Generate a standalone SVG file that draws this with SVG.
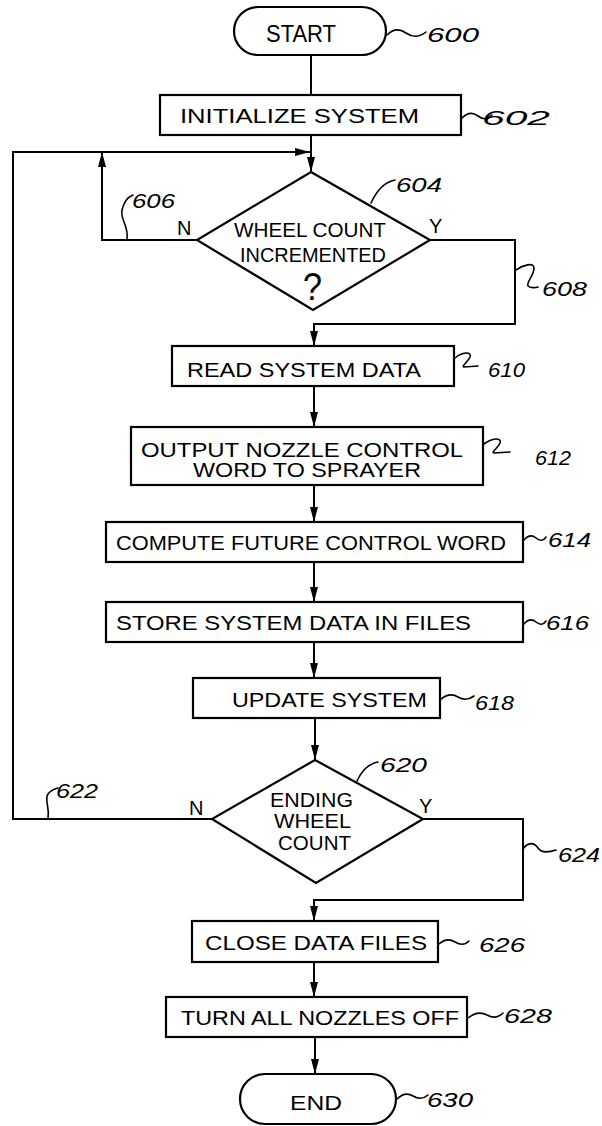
<svg xmlns="http://www.w3.org/2000/svg" width="602" height="1126" viewBox="0 0 602 1126">
<style>
.box{fill:#fff;stroke:#000;stroke-width:2.2}
.ln{fill:none;stroke:#000;stroke-width:2}
.ld{fill:none;stroke:#000;stroke-width:1.6;stroke-linecap:round}
.t{font-family:"Liberation Sans",Arial,sans-serif;font-size:20px;fill:#000}
.n{font-family:"Liberation Sans",Arial,sans-serif;font-size:20px;font-style:italic;fill:#000}
</style>
<defs>
<marker id="ah" markerUnits="userSpaceOnUse" markerWidth="15" markerHeight="8" refX="15" refY="4" orient="auto">
<path d="M0,0 L15,4 L0,8 z" fill="#000"/>
</marker>
</defs>
<rect width="602" height="1126" fill="#fff"/>

<g id="connectors">
<line class="ln" x1="311" y1="55" x2="311" y2="95"/>
<line class="ln" x1="311" y1="135" x2="311" y2="172" marker-end="url(#ah)"/>
<polyline class="ln" points="212,819 13,819 13,152 310,152" marker-end="url(#ah)"/>
<polyline class="ln" points="197,240 102,240 102,152" marker-end="url(#ah)"/>
<polyline class="ln" points="430,240 515,240 515,324 314,324 314,346" marker-end="url(#ah)"/>
<line class="ln" x1="314" y1="386" x2="314" y2="427" marker-end="url(#ah)"/>
<line class="ln" x1="314" y1="485" x2="314" y2="522" marker-end="url(#ah)"/>
<line class="ln" x1="314" y1="562" x2="314" y2="602" marker-end="url(#ah)"/>
<line class="ln" x1="314" y1="642" x2="314" y2="678" marker-end="url(#ah)"/>
<line class="ln" x1="315" y1="718" x2="315" y2="760" marker-end="url(#ah)"/>
<polyline class="ln" points="423,819 523,819 523,900 314,900 314,921" marker-end="url(#ah)"/>
<line class="ln" x1="314" y1="962" x2="314" y2="997" marker-end="url(#ah)"/>
<line class="ln" x1="315" y1="1037" x2="315" y2="1074" marker-end="url(#ah)"/>
</g>

<g id="n600">
<rect class="box" x="234" y="7" width="152" height="48" rx="24"/>
<text class="t" x="266" y="42" style="font-size:23px" textLength="70" lengthAdjust="spacingAndGlyphs">START</text>
<path class="ld" d="M387,35 q9,-9 19,-2 t20,-1"/>
<text class="n" x="427" y="42" textLength="52" lengthAdjust="spacingAndGlyphs">600</text>
</g>

<g id="n602">
<rect class="box" x="160" y="95" width="301" height="40"/>
<text class="t" x="180" y="123" textLength="239" lengthAdjust="spacingAndGlyphs">INITIALIZE SYSTEM</text>
<path class="ld" d="M462,118 q8,-8 16,-2 t14,-1"/>
<text class="n" x="482" y="125" textLength="68" lengthAdjust="spacingAndGlyphs">602</text>
</g>

<g id="n604">
<polygon class="box" points="311,172 430,240 313,310 197,240"/>
<text class="t" x="234" y="237" textLength="152" lengthAdjust="spacingAndGlyphs">WHEEL COUNT</text>
<text class="t" x="240" y="262" textLength="146" lengthAdjust="spacingAndGlyphs">INCREMENTED</text>
<text class="t" x="303" y="300" style="font-size:38px" textLength="19" lengthAdjust="spacingAndGlyphs">?</text>
<text class="t" x="177" y="235">N</text>
<text class="t" x="429" y="233">Y</text>
<path class="ld" d="M371,203 C377,190 384,182 395,180"/>
<text class="n" x="396" y="192" textLength="46" lengthAdjust="spacingAndGlyphs">604</text>
</g>

<g id="n606">
<path class="ld" d="M127,239 C129,226 120,220 122,210 C124,201 128,197 133,195"/>
<text class="n" x="132" y="208" textLength="43" lengthAdjust="spacingAndGlyphs">606</text>
</g>

<g id="n608">
<path class="ld" d="M516,270 C523,265 534,262 534,268 C534,276 526,282 528,286 C530,288 535,288 538,287"/>
<text class="n" x="542" y="296" textLength="45" lengthAdjust="spacingAndGlyphs">608</text>
</g>

<g id="n610">
<rect class="box" x="172" y="346" width="282" height="40"/>
<text class="t" x="187" y="377" textLength="234" lengthAdjust="spacingAndGlyphs">READ SYSTEM DATA</text>
<path class="ld" d="M455,358 C462,352 472,351 470,357 C468,362 461,366 464,367 L478,366"/>
<text class="n" x="488" y="377" textLength="37" lengthAdjust="spacingAndGlyphs">610</text>
</g>

<g id="n612">
<rect class="box" x="131" y="427" width="352" height="58"/>
<text class="t" x="141" y="457" textLength="322" lengthAdjust="spacingAndGlyphs">OUTPUT NOZZLE CONTROL</text>
<text class="t" x="193" y="477" textLength="228" lengthAdjust="spacingAndGlyphs">WORD TO SPRAYER</text>
<path class="ld" d="M484,444 C492,438 502,437 500,443 C498,448 491,452 494,453 L510,452"/>
<text class="n" x="535" y="465" textLength="36" lengthAdjust="spacingAndGlyphs">612</text>
</g>

<g id="n614">
<rect class="box" x="106" y="522" width="417" height="40"/>
<text class="t" x="116" y="550" textLength="390" lengthAdjust="spacingAndGlyphs">COMPUTE FUTURE CONTROL WORD</text>
<path class="ld" d="M524,540 q6,-7 12,-2 t10,-1"/>
<text class="n" x="548" y="547" textLength="43" lengthAdjust="spacingAndGlyphs">614</text>
</g>

<g id="n616">
<rect class="box" x="106" y="602" width="417" height="40"/>
<text class="t" x="116" y="630" textLength="355" lengthAdjust="spacingAndGlyphs">STORE SYSTEM DATA IN FILES</text>
<path class="ld" d="M524,624 q6,-7 12,-2 t10,-1"/>
<text class="n" x="546" y="630" textLength="43" lengthAdjust="spacingAndGlyphs">616</text>
</g>

<g id="n618">
<rect class="box" x="193" y="678" width="247" height="40"/>
<text class="t" x="232" y="707" textLength="195" lengthAdjust="spacingAndGlyphs">UPDATE SYSTEM</text>
<path class="ld" d="M441,699 q9,-7 17,-2 t16,-1"/>
<text class="n" x="475" y="710" textLength="39" lengthAdjust="spacingAndGlyphs">618</text>
</g>

<g id="n620">
<polygon class="box" points="315,760 423,819 316,883 212,819"/>
<text class="t" x="270" y="807" textLength="83" lengthAdjust="spacingAndGlyphs">ENDING</text>
<text class="t" x="274" y="828" textLength="77" lengthAdjust="spacingAndGlyphs">WHEEL</text>
<text class="t" x="278" y="850" textLength="73" lengthAdjust="spacingAndGlyphs">COUNT</text>
<text class="t" x="189" y="815">N</text>
<text class="t" x="419" y="813">Y</text>
<path class="ld" d="M357,781 C362,770 368,764 378,762"/>
<text class="n" x="380" y="772" textLength="47" lengthAdjust="spacingAndGlyphs">620</text>
</g>

<g id="n622">
<path class="ld" d="M48,819 C50,806 44,800 48,794 C51,790 54,789 58,788"/>
<text class="n" x="56" y="798" textLength="42" lengthAdjust="spacingAndGlyphs">622</text>
</g>

<g id="n624">
<path class="ld" d="M523,849 C528,842 534,842 538,848 C542,854 550,852 556,850"/>
<text class="n" x="558" y="862" textLength="42" lengthAdjust="spacingAndGlyphs">624</text>
</g>

<g id="n626">
<rect class="box" x="192" y="921" width="246" height="41"/>
<text class="t" x="205" y="950" textLength="222" lengthAdjust="spacingAndGlyphs">CLOSE DATA FILES</text>
<path class="ld" d="M439,944 q8,-7 16,-2 t14,-1"/>
<text class="n" x="479" y="952" textLength="46" lengthAdjust="spacingAndGlyphs">626</text>
</g>

<g id="n628">
<rect class="box" x="166" y="997" width="301" height="40"/>
<text class="t" x="181" y="1025" textLength="278" lengthAdjust="spacingAndGlyphs">TURN ALL NOZZLES OFF</text>
<path class="ld" d="M468,1018 q10,-8 19,-3 t16,-2"/>
<text class="n" x="504" y="1023" textLength="48" lengthAdjust="spacingAndGlyphs">628</text>
</g>

<g id="n630">
<rect class="box" x="240" y="1074" width="156" height="50" rx="25"/>
<text class="t" x="290" y="1110" style="font-size:21px" textLength="52" lengthAdjust="spacingAndGlyphs">END</text>
<path class="ld" d="M397,1099 q8,-8 16,-3 t15,-1"/>
<text class="n" x="427" y="1107" textLength="46" lengthAdjust="spacingAndGlyphs">630</text>
</g>
</svg>
